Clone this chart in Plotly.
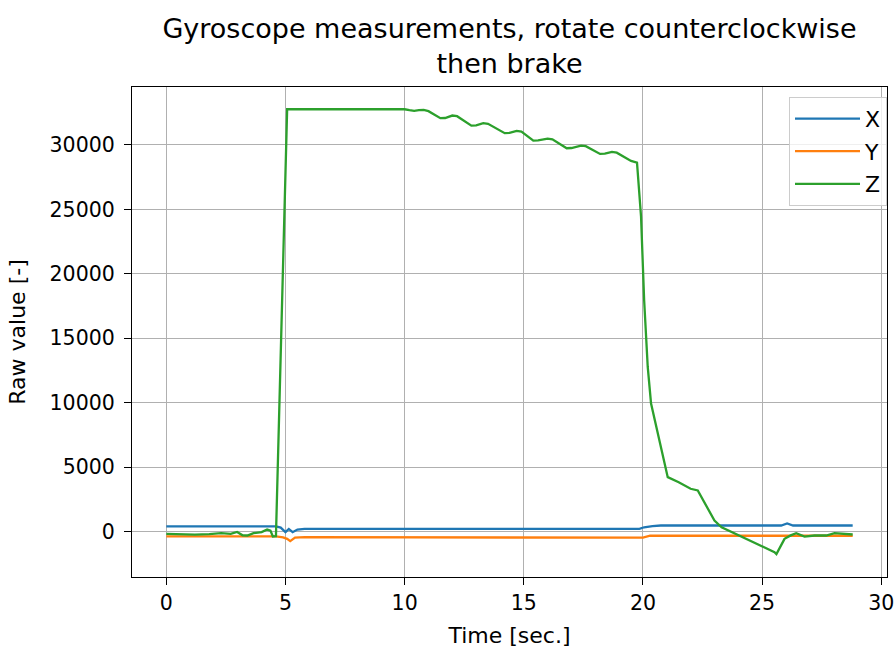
import plotly.graph_objects as go

# ---- data ----
t_x = [0, 4.6, 4.8, 5.0, 5.14, 5.3, 5.5, 5.8, 19.85, 20.05, 20.4, 20.75, 25.8, 26.05, 26.3, 28.8]
gyro_x = [400, 400, 300, -50, 200, -50, 150, 200, 210, 330, 420, 466, 466, 620, 466, 466]

t_y = [0, 4.6, 4.9, 5.07, 5.2, 5.4, 5.8, 19.85, 20.0, 20.3, 28.8]
gyro_y = [-370, -370, -450, -570, -750, -470, -440, -440, -480, -330, -330]

t_z = [0, 0.6, 1.2, 1.8, 2.3, 2.7, 2.97, 3.2, 3.4, 3.66, 4.0, 4.23, 4.37, 4.47, 4.6,
       5.07, 10.0, 10.2, 10.4, 10.6, 10.8, 11.0, 11.5, 11.7, 12.0, 12.2, 12.8, 13.0, 13.3,
       13.5, 14.2, 14.4, 14.7, 14.9, 15.4, 15.6, 16.0, 16.2, 16.8, 17.0, 17.4, 17.6,
       18.2, 18.4, 18.7, 18.9, 19.5, 19.75, 19.92, 20.05, 20.13, 20.2, 20.34, 21.04, 21.5,
       22.0, 22.3, 23.0, 23.3, 25.52, 25.6, 25.94, 26.2, 26.43, 26.78, 27.2, 27.69,
       28.04, 28.8]
gyro_z = [-180, -230, -240, -200, -130, -180, -30, -290, -310, -130, -50, 150, 70, -390, -360,
          32767, 32767, 32700, 32650, 32700, 32720, 32620, 32080, 32090, 32280, 32230, 31500, 31520, 31690,
          31640, 30910, 30930, 31090, 31040, 30330, 30350, 30490, 30440, 29740, 29760, 29950, 29900,
          29300, 29320, 29460, 29400, 28760, 28630, 24430, 17950, 15365, 12770, 9925, 4220, 3830,
          3318, 3190, 850, 330, -1610, -1750, -570, -300, -130, -390, -310, -310,
          -130, -230]

x_ticks = [0, 5, 10, 15, 20, 25, 30]
y_ticks = [0, 5000, 10000, 15000, 20000, 25000, 30000]
y_ticktext = [str(v) for v in y_ticks]

FONT = "DejaVu Sans"

fig = go.Figure()
fig.add_trace(go.Scatter(x=t_x, y=gyro_x, mode="lines", name="X", legendgroup="x",
                         line=dict(color="#1f77b4", width=2.3)))
fig.add_trace(go.Scatter(x=t_y, y=gyro_y, mode="lines", name="Y", legendgroup="y",
                         line=dict(color="#ff7f0e", width=2.3)))
fig.add_trace(go.Scatter(x=t_z, y=gyro_z, mode="lines", name="Z", legendgroup="z",
                         line=dict(color="#2ca02c", width=2.3)))

axis_common = dict(
    showgrid=True, gridcolor="#b0b0b0", gridwidth=1.2,
    showline=True, linecolor="black", linewidth=1.2, mirror=True,
    ticks="outside", ticklen=7, tickwidth=1.2, tickcolor="black",
    zeroline=False, tickfont=dict(family=FONT, size=20.5, color="black"),
    ticklabeloverflow="allow", automargin=False,
)

fig.update_layout(
    width=896, height=648,
    margin=dict(l=132, r=9, t=87, b=71),
    paper_bgcolor="white", plot_bgcolor="white",
    font=dict(family=FONT, size=20, color="black"),
    title=dict(text="Gyroscope measurements, rotate counterclockwise<br>then brake",
               x=0.5, xref="paper", xanchor="center",
               y=1 - 38 / 648, yanchor="middle",
               font=dict(family=FONT, size=27, color="black")),
    xaxis=dict(range=[-1.44, 30.24], tickvals=x_ticks,
               title=dict(text="Time [sec.]", standoff=14,
                          font=dict(family=FONT, size=22)),
               **axis_common),
    yaxis=dict(range=[-3530, 34495], tickvals=y_ticks, ticktext=y_ticktext,
               ticklabelstandoff=5,
               title=dict(text="Raw value [-]", standoff=17,
                          font=dict(family=FONT, size=22)),
               **axis_common),
    legend=dict(x=1.0, y=0.98, xanchor="right", yanchor="top",
                bgcolor="rgba(255,255,255,0.8)", bordercolor="#cccccc", borderwidth=1,
                font=dict(family=FONT, size=22), itemwidth=65, tracegroupgap=1),
    showlegend=True,
)

fig.write_html("out.html")
